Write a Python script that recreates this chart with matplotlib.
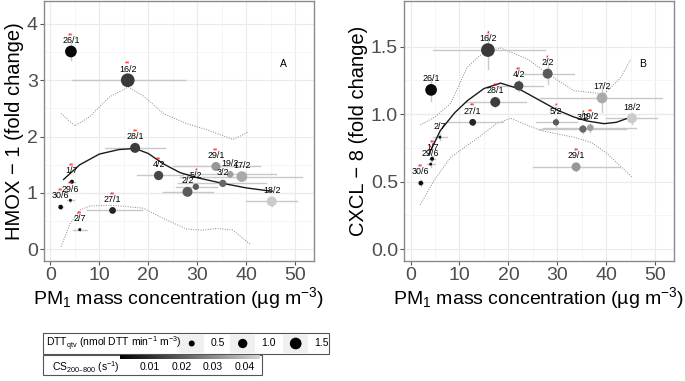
import numpy as np
import matplotlib
matplotlib.use('Agg')
import matplotlib.pyplot as plt
from matplotlib.colors import LinearSegmentedColormap, Normalize
from matplotlib.patches import Rectangle

plt.rcParams['font.family'] = ['Liberation Sans', 'DejaVu Sans']
plt.rcParams['mathtext.default'] = 'regular'

# sampling days
days = ['26/1', '16/2', '28/1', '4/2', '2/2', '5/2', '3/2', '29/1',
        '19/2', '17/2', '18/2', '1/7', '29/6', '30/6', '27/1', '2/7']
pm1 = [4.2, 15.8, 17.3, 22.1, 28.0, 29.7, 35.2, 33.8,
       36.7, 39.1, 45.2, 4.4, 4.1, 2.1, 12.7, 6.0]
pm1_lo = [3.5, 4.5, 11.2, 17.6, 22.9, 25.6, 26.0, 25.1,
          27.0, 26.5, 40.0, 3.8, 3.4, 1.7, 7.5, 4.6]
pm1_hi = [4.9, 27.5, 23.5, 27.0, 33.3, 34.0, 44.0, 42.8,
          46.0, 51.4, 50.3, 5.1, 4.9, 2.6, 18.8, 7.5]
dtt = [1.5, 2.0, 1.13, 1.0, 1.13, 0.54, 0.67, 0.95,
       0.59, 1.28, 1.13, 0.3, 0.23, 0.36, 0.6, 0.23]
cs = [0.002, 0.012, 0.013, 0.015, 0.019, 0.019, 0.022, 0.032,
      0.034, 0.036, 0.043, 0.003, 0.003, 0.003, 0.008, 0.003]

# panel A: HMOX-1
hmox = [3.51, 3.00, 1.80, 1.31, 1.02, 1.11, 1.17, 1.47,
        1.33, 1.29, 0.85, 1.20, 0.87, 0.75, 0.69, 0.35]
hmox_err = [0.15, 0.06, 0.06, 0.05, 0.04, 0.04, 0.04, 0.05,
            0.04, 0.06, 0.08, 0.03, 0.03, 0.03, 0.03, 0.02]
hmox_sig = ['**', '**', '**', '**', '', '*', '', '**',
            '', '', '', '**', '**', '**', '**', '**']
hmox_fit_x = [2.7, 6, 10, 14, 17.3, 20, 23, 26.5, 30, 35.2, 40, 45.2]
hmox_fit_y = [1.24, 1.50, 1.69, 1.77, 1.79, 1.70, 1.52, 1.36, 1.27, 1.17, 1.09, 1.03]
hmox_up_x = [2.2, 5.0, 8, 12, 15.9, 19, 23.1, 27.8, 32, 37.3, 40.4]
hmox_up_y = [2.41, 2.19, 2.35, 2.70, 2.88, 2.72, 2.41, 2.23, 2.12, 1.95, 2.08]
hmox_lo_x = [2.2, 4, 6.1, 8.1, 13, 19, 23, 27.8, 31, 34, 37.3, 40.9]
hmox_lo_y = [0.05, 0.45, 0.70, 0.77, 0.78, 0.73, 0.55, 0.36, 0.34, 0.37, 0.34, 0.08]

# panel B: CXCL-8
cxcl = [1.18, 1.475, 1.09, 1.21, 1.30, 0.94, 0.89, 0.61,
        0.90, 1.12, 0.97, 0.67, 0.63, 0.49, 0.94, 0.83]
cxcl_err = [0.08, 0.14, 0.04, 0.04, 0.08, 0.03, 0.03, 0.03,
            0.03, 0.10, 0.04, 0.02, 0.02, 0.02, 0.02, 0.02]
cxcl_sig = ['', '*', '**', '**', '*', '*', '*', '**',
            '**', '', '', '**', '*', '**', '**', '']
cxcl_fit_x = [3.7, 6.1, 9, 11.6, 15, 18.4, 22, 26.5, 30, 33.3, 36, 39.5, 42, 45.1]
cxcl_fit_y = [0.70, 0.88, 1.01, 1.10, 1.19, 1.23, 1.19, 1.10, 1.03, 0.98, 0.95, 0.93, 0.94, 0.98]
cxcl_up_x = [2.0, 5, 8.2, 11.6, 15, 18.4, 23.8, 28, 33.3, 39.5, 42.9, 45.0]
cxcl_up_y = [0.92, 0.98, 1.08, 1.35, 1.46, 1.49, 1.41, 1.30, 1.175, 1.15, 1.27, 1.41]
cxcl_lo_x = [2.0, 4.8, 8.2, 14.3, 17.5, 20.4, 26.5, 33.3, 37, 40.1, 45.2]
cxcl_lo_y = [0.33, 0.51, 0.68, 0.84, 0.93, 0.97, 0.88, 0.83, 0.79, 0.71, 0.535]

# legend keys
size_keys = [0.5, 1.0, 1.5]
cs_ticks = [0.01, 0.02, 0.03, 0.04]

cmap = LinearSegmentedColormap.from_list('cs', ['#000000', '#D4D4D4'])
norm = Normalize(vmin=0.0, vmax=0.045)


def msize(v):
    d_px = np.sqrt(max(101 * v - 14.5, 6.0))
    return (d_px * 0.72) ** 2


def panel(ax, y, yerr, sig, fx, fy, ux, uy, lx, ly, ylim, yticks, yfmt, ylabel, letter, lpos):
    ax.set_facecolor('white')
    ax.set_xlim(-1.3, 53.8)
    ax.set_ylim(*ylim)
    ax.set_xticks([0, 10, 20, 30, 40, 50])
    ax.set_xticks([5, 15, 25, 35, 45], minor=True)
    ax.set_yticks(yticks)
    ax.set_yticks([(a + b) / 2 for a, b in zip(yticks[:-1], yticks[1:])], minor=True)
    ax.set_yticklabels([yfmt % t for t in yticks])
    ax.grid(True, which='major', color='#EBEBEB', lw=0.8, zorder=0)
    ax.grid(True, which='minor', color='#F4F4F4', lw=0.6, zorder=0)
    ax.tick_params(which='major', length=3, color='#555555', labelcolor='#4D4D4D',
                   labelsize=14, pad=1.5)
    ax.tick_params(which='minor', length=0)
    for s in ax.spines.values():
        s.set_color('#8A8A8A')
        s.set_linewidth(1.0)
    ax.axhline(1, color='#999999', lw=0.8, ls=(0, (2, 1.5)), zorder=1)
    ax.plot(ux, uy, color='#888888', lw=0.7, ls=(0, (1, 1.5)), zorder=2)
    ax.plot(lx, ly, color='#888888', lw=0.7, ls=(0, (1, 1.5)), zorder=2)
    for i in range(len(days)):
        ax.plot([pm1_lo[i], pm1_hi[i]], [y[i], y[i]], color='#C8C8C8', lw=1.0, zorder=2)
        ax.plot([pm1[i], pm1[i]], [y[i] - yerr[i], y[i] + yerr[i]], color='#C8C8C8', lw=1.0, zorder=2)
    ax.plot(fx, fy, color='#1A1A1A', lw=1.0, zorder=3)
    order = np.argsort(dtt)[::-1]
    ax.scatter(np.array(pm1)[order], np.array(y)[order], s=[msize(dtt[i]) for i in order],
               c=[cmap(norm(cs[i])) for i in order], edgecolors='none', zorder=4)
    for i in range(len(days)):
        ax.annotate(days[i], (pm1[i], y[i]), xytext=(0, 8), textcoords='offset points',
                    ha='center', va='center', fontsize=6.4, color='black', zorder=5)
        if sig[i]:
            ax.annotate(sig[i], (pm1[i], y[i]), xytext=(0, 11.5), textcoords='offset points',
                        ha='center', va='center', fontsize=5, color='red', zorder=6)
    ax.text(lpos[0], lpos[1], letter, ha='center', va='center', fontsize=7.5)
    ax.set_ylabel(ylabel, fontsize=14.5, labelpad=2)
    ax.set_xlabel(r'PM$_1$ mass concentration (µg m$^{-3}$)', fontsize=14, labelpad=1)


fig = plt.figure(figsize=(6.85, 3.81), dpi=100)
axA = fig.add_axes([0.0642, 0.316, 0.394, 0.682])
axB = fig.add_axes([0.590, 0.316, 0.394, 0.682])

panel(axA, hmox, hmox_err, hmox_sig, hmox_fit_x, hmox_fit_y, hmox_up_x, hmox_up_y,
      hmox_lo_x, hmox_lo_y, (-0.2, 4.41), [0, 1, 2, 3, 4], '%d',
      'HMOX − 1 (fold change)', 'A', (47.6, 3.29))
panel(axB, cxcl, cxcl_err, cxcl_sig, cxcl_fit_x, cxcl_fit_y, cxcl_up_x, cxcl_up_y,
      cxcl_lo_x, cxcl_lo_y, (-0.084, 1.84), [0.0, 0.5, 1.0, 1.5], '%.1f',
      'CXCL − 8 (fold change)', 'B', (47.3, 1.37))

# legends drawn on an overlay axes in figure pixels
W, H = 685.0, 381.0
legax = fig.add_axes([0, 0, 1, 1], facecolor='none')
legax.axis('off')

# size legend
legax.add_patch(Rectangle((43, 333), 286, 20.5, fill=False, edgecolor='#555555', lw=0.8))
legax.text(46, 343.5, r'DTT$_{qtv}$ (nmol DTT min$^{-1}$ m$^{-3}$)', fontsize=7.5,
           ha='left', va='center')
key_px = [191.7, 242.7, 295.7]
for v, kx in zip(size_keys, key_px):
    legax.add_patch(Rectangle((kx - 12.5, 334), 25, 18.5, facecolor='#F0F0F0', edgecolor='none'))
    legax.text(kx + 26, 343.5, '%.1f' % v, fontsize=7.5, ha='center', va='center')
legax.scatter(key_px, [343.5] * 3, s=[msize(v) for v in size_keys], c='black', edgecolors='none',
              zorder=3)

# colour legend
legax.add_patch(Rectangle((43, 355), 219, 20, fill=False, edgecolor='#555555', lw=0.8))
legax.text(52, 367, r'CS$_{200–800}$ (s$^{-1}$)', fontsize=7.5, ha='left', va='center')
legax.imshow(np.linspace(0, 1, 256)[None, :], aspect='auto', cmap=cmap,
             extent=(120, 260, 359.5, 355.5), zorder=2)
for t in cs_ticks:
    legax.text(118.6 + t / 0.01 * 31.4, 367.5, '%.2f' % t, fontsize=7.5, ha='center', va='center')

legax.set_xlim(0, W)
legax.set_ylim(H, 0)

fig.savefig('out.png', dpi=100)
